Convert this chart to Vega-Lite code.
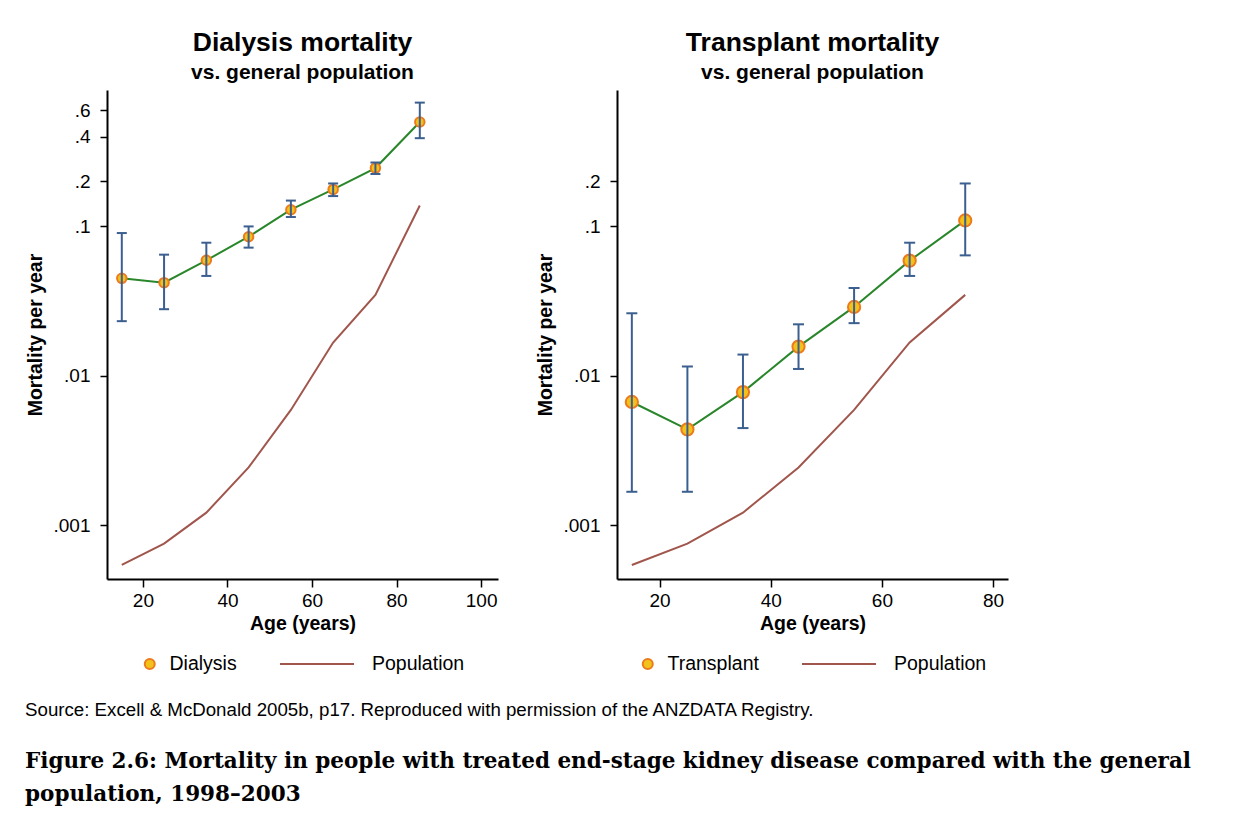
{
  "$schema": "https://vega.github.io/schema/vega-lite/v6.json",
  "background": "white",
  "padding": {"left": 25, "top": 29, "right": 10, "bottom": 5},
  "datasets": {
    "dial": [
      {"age": 15, "rate": 0.0449, "lo": 0.0232, "hi": 0.0903, "series": "Dialysis"},
      {"age": 25, "rate": 0.042, "lo": 0.0279, "hi": 0.0647, "series": "Dialysis"},
      {"age": 35, "rate": 0.0593, "lo": 0.0466, "hi": 0.0778, "series": "Dialysis"},
      {"age": 45, "rate": 0.0853, "lo": 0.0721, "hi": 0.1, "series": "Dialysis"},
      {"age": 55, "rate": 0.1294, "lo": 0.1156, "hi": 0.149, "series": "Dialysis"},
      {"age": 65, "rate": 0.177, "lo": 0.1597, "hi": 0.194, "series": "Dialysis"},
      {"age": 75, "rate": 0.246, "lo": 0.2244, "hi": 0.268, "series": "Dialysis"},
      {"age": 85.5, "rate": 0.501, "lo": 0.39, "hi": 0.675, "series": "Dialysis"}
    ],
    "trans": [
      {"age": 15, "rate": 0.00667, "lo": 0.00167, "hi": 0.0262, "series": "Transplant"},
      {"age": 25, "rate": 0.00437, "lo": 0.00167, "hi": 0.01153, "series": "Transplant"},
      {"age": 35, "rate": 0.00777, "lo": 0.00446, "hi": 0.01386, "series": "Transplant"},
      {"age": 45, "rate": 0.01567, "lo": 0.0111, "hi": 0.0221, "series": "Transplant"},
      {"age": 55, "rate": 0.0289, "lo": 0.0225, "hi": 0.0387, "series": "Transplant"},
      {"age": 65, "rate": 0.059, "lo": 0.0466, "hi": 0.0778, "series": "Transplant"},
      {"age": 75, "rate": 0.1097, "lo": 0.064, "hi": 0.194, "series": "Transplant"}
    ],
    "pop": [
      {"age": 15, "rate": 0.00054, "series": "Population"},
      {"age": 25, "rate": 0.00075, "series": "Population"},
      {"age": 35, "rate": 0.00121, "series": "Population"},
      {"age": 45, "rate": 0.00243, "series": "Population"},
      {"age": 55, "rate": 0.0059, "series": "Population"},
      {"age": 65, "rate": 0.0167, "series": "Population"},
      {"age": 75, "rate": 0.0348, "series": "Population"},
      {"age": 85.5, "rate": 0.138, "series": "Population"}
    ]
  },
  "title": {
    "text": ["Figure 2.6: Mortality in people with treated end-stage kidney disease compared with the general", "population, 1998–2003"],
    "orient": "bottom",
    "anchor": "start",
    "font": "DejaVu Serif",
    "fontSize": 21.5,
    "fontWeight": "bold",
    "color": "black",
    "lineHeight": 33,
    "offset": 31
  },
  "vconcat": [
    {
      "title": {
        "text": "Source: Excell & McDonald 2005b, p17. Reproduced with permission of the ANZDATA Registry.",
        "orient": "bottom",
        "anchor": "start",
        "font": "Liberation Sans",
        "fontSize": 18.7,
        "fontWeight": "normal",
        "color": "black",
        "offset": 26
      },
      "spacing": 37,
      "hconcat": [
        {
          "width": 391,
          "height": 489,
          "title": {"text": "Dialysis mortality", "subtitle": "vs. general population"},
          "layer": [
            {
              "data": {"name": "dial"},
              "mark": {"type": "line", "color": "#2a862a", "strokeWidth": 2},
              "encoding": {
                "x": {"field": "age", "type": "quantitative", "scale": {"domain": [11.5, 104], "nice": false, "zero": false}, "axis": {"values": [20, 40, 60, 80, 100], "title": "Age (years)"}},
                "y": {"field": "rate", "type": "quantitative", "scale": {"type": "log", "domain": [0.000435, 0.82], "nice": false}, "axis": {"values": [0.001, 0.01, 0.1, 0.2, 0.4, 0.6], "title": "Mortality per year", "labelExpr": "slice(format(datum.value, '~g'), 1)"}}
              }
            },
            {
              "data": {"name": "dial"},
              "mark": {"type": "point", "filled": true, "stroke": "#ec7a1e", "strokeWidth": 2, "size": 90, "opacity": 1},
              "encoding": {
                "x": {"field": "age", "type": "quantitative"},
                "y": {"field": "rate", "type": "quantitative"},
                "fill": {"field": "series", "type": "nominal", "scale": {"domain": ["Dialysis"], "range": ["#f2c21b"]}, "legend": {"title": null, "symbolType": "circle", "symbolSize": 100, "symbolStrokeColor": "#ec7a1e", "symbolStrokeWidth": 2, "clipHeight": 22, "labelOffset": 10}}
              }
            },
            {
              "data": {"name": "dial"},
              "mark": {"type": "rule", "color": "#3b5f8f", "strokeWidth": 2},
              "encoding": {
                "x": {"field": "age", "type": "quantitative"},
                "y": {"field": "lo", "type": "quantitative"},
                "y2": {"field": "hi"}
              }
            },
            {
              "data": {"name": "dial"},
              "mark": {"type": "tick", "orient": "horizontal", "color": "#3b5f8f", "size": 10, "thickness": 2, "opacity": 1},
              "encoding": {
                "x": {"field": "age", "type": "quantitative"},
                "y": {"field": "lo", "type": "quantitative"}
              }
            },
            {
              "data": {"name": "dial"},
              "mark": {"type": "tick", "orient": "horizontal", "color": "#3b5f8f", "size": 10, "thickness": 2, "opacity": 1},
              "encoding": {
                "x": {"field": "age", "type": "quantitative"},
                "y": {"field": "hi", "type": "quantitative"}
              }
            },
            {
              "data": {"name": "pop"},
              "mark": {"type": "line", "strokeWidth": 2},
              "encoding": {
                "x": {"field": "age", "type": "quantitative"},
                "y": {"field": "rate", "type": "quantitative"},
                "stroke": {"field": "series", "type": "nominal", "scale": {"domain": ["Population"], "range": ["#a0564c"]}, "legend": {"title": null, "symbolType": "stroke", "symbolSize": 5476, "symbolStrokeWidth": 2, "clipHeight": 22, "labelOffset": 17}}
              }
            }
          ],
          "resolve": {"scale": {"fill": "independent", "stroke": "independent"}}
        },
        {
          "width": 391,
          "height": 489,
          "title": {"text": "Transplant mortality", "subtitle": "vs. general population"},
          "layer": [
            {
              "data": {"name": "trans"},
              "mark": {"type": "line", "color": "#2a862a", "strokeWidth": 2},
              "encoding": {
                "x": {"field": "age", "type": "quantitative", "scale": {"domain": [12.33, 82.7], "nice": false, "zero": false}, "axis": {"values": [20, 40, 60, 80], "title": "Age (years)"}},
                "y": {"field": "rate", "type": "quantitative", "scale": {"type": "log", "domain": [0.000435, 0.82], "nice": false}, "axis": {"values": [0.001, 0.01, 0.1, 0.2], "title": "Mortality per year", "labelExpr": "slice(format(datum.value, '~g'), 1)"}}
              }
            },
            {
              "data": {"name": "trans"},
              "mark": {"type": "point", "filled": true, "stroke": "#ec7a1e", "strokeWidth": 2, "size": 150, "opacity": 1},
              "encoding": {
                "x": {"field": "age", "type": "quantitative"},
                "y": {"field": "rate", "type": "quantitative"},
                "fill": {"field": "series", "type": "nominal", "scale": {"domain": ["Transplant"], "range": ["#f2c21b"]}, "legend": {"title": null, "symbolType": "circle", "symbolSize": 100, "symbolStrokeColor": "#ec7a1e", "symbolStrokeWidth": 2, "clipHeight": 22, "labelOffset": 10}}
              }
            },
            {
              "data": {"name": "trans"},
              "mark": {"type": "rule", "color": "#3b5f8f", "strokeWidth": 2},
              "encoding": {
                "x": {"field": "age", "type": "quantitative"},
                "y": {"field": "lo", "type": "quantitative"},
                "y2": {"field": "hi"}
              }
            },
            {
              "data": {"name": "trans"},
              "mark": {"type": "tick", "orient": "horizontal", "color": "#3b5f8f", "size": 11, "thickness": 2, "opacity": 1},
              "encoding": {
                "x": {"field": "age", "type": "quantitative"},
                "y": {"field": "lo", "type": "quantitative"}
              }
            },
            {
              "data": {"name": "trans"},
              "mark": {"type": "tick", "orient": "horizontal", "color": "#3b5f8f", "size": 11, "thickness": 2, "opacity": 1},
              "encoding": {
                "x": {"field": "age", "type": "quantitative"},
                "y": {"field": "hi", "type": "quantitative"}
              }
            },
            {
              "data": {"name": "pop"},
              "transform": [{"filter": "datum.age <= 75"}],
              "mark": {"type": "line", "strokeWidth": 2},
              "encoding": {
                "x": {"field": "age", "type": "quantitative"},
                "y": {"field": "rate", "type": "quantitative"},
                "stroke": {"field": "series", "type": "nominal", "scale": {"domain": ["Population"], "range": ["#a0564c"]}, "legend": {"title": null, "symbolType": "stroke", "symbolSize": 5476, "symbolStrokeWidth": 2, "clipHeight": 22, "labelOffset": 17}}
              }
            }
          ],
          "resolve": {"scale": {"fill": "independent", "stroke": "independent"}}
        }
      ],
      "resolve": {"scale": {"x": "independent", "y": "independent", "fill": "independent", "stroke": "independent"}, "legend": {"fill": "independent", "stroke": "independent"}}
    }
  ],
  "config": {
    "view": {"stroke": null},
    "font": "Liberation Sans",
    "title": {"font": "Liberation Sans", "fontSize": 26.5, "fontWeight": "bold", "color": "black", "subtitleFont": "Liberation Sans", "subtitleFontSize": 21, "subtitleFontWeight": "bold", "subtitleColor": "black", "subtitlePadding": 6, "offset": 7, "anchor": "middle"},
    "axis": {
      "grid": false,
      "domainColor": "black",
      "domainWidth": 2,
      "tickColor": "black",
      "tickWidth": 1.5,
      "labelFont": "Liberation Sans",
      "labelFontSize": 19,
      "labelColor": "black",
      "titleFont": "Liberation Sans",
      "titleFontSize": 19.5,
      "titleFontWeight": "bold",
      "titleColor": "black"
    },
    "axisX": {"tickSize": 8, "labelPadding": 4, "titlePadding": 4},
    "axisY": {"tickSize": 7, "labelPadding": 10, "titlePadding": 8},
    "legend": {
      "orient": "bottom",
      "direction": "horizontal",
      "labelFont": "Liberation Sans",
      "labelFontSize": 19.5,
      "labelColor": "black",
      "offset": 20,
      "layout": {"bottom": {"anchor": "middle", "direction": "horizontal", "margin": 42}}
    }
  }
}
